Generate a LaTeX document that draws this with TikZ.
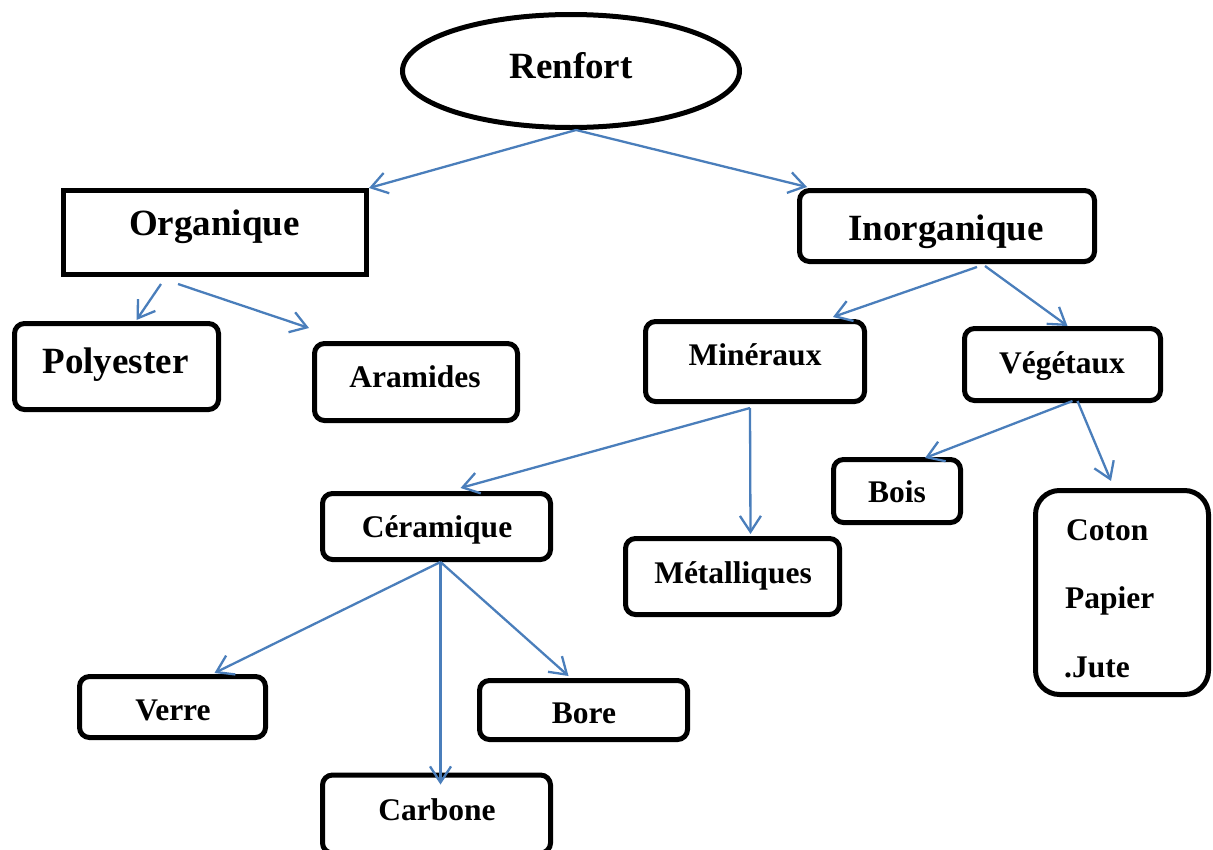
\documentclass[tikz,border=0pt]{standalone}
\usepackage{fontspec}
\setmainfont{Liberation Serif}
\usetikzlibrary{shapes.geometric,arrows.meta,calc}
\definecolor{linkblue}{RGB}{74,126,187}
\begin{document}
\begin{tikzpicture}[x=1pt,y=-1pt,
  frame/.style={draw=black,line width=5pt,inner sep=0pt,fill=white},
  rbox/.style={frame,rectangle,rounded corners=10pt},
  bigtxt/.style={anchor=base,inner sep=0pt,font=\fontsize{37}{44}\selectfont\bfseries},
  smalltxt/.style={anchor=base,inner sep=0pt,font=\fontsize{31.5}{38}\selectfont\bfseries},
  link/.style={draw=linkblue,line width=2.3pt,-{Straight Barb[length=16pt,width=21pt,line width=2.3pt]}}]
\useasboundingbox (0,0) rectangle (1213,849);
\clip (0,0) rectangle (1213,849);

% boxes
\node[frame,ellipse,minimum width=337pt,minimum height=113pt] (ren) at (571,71) {};
\node[frame,rectangle,minimum width=303pt,minimum height=84pt] (org) at (215,232.5) {};
\node[rbox,minimum width=295pt,minimum height=71pt] (inorg) at (947,226) {};
\node[rbox,minimum width=204pt,minimum height=86pt] (poly) at (116.5,366.5) {};
\node[rbox,minimum width=203pt,minimum height=77pt] (ara) at (416,382) {};
\node[rbox,minimum width=219pt,minimum height=80pt] (mine) at (755,361.5) {};
\node[rbox,minimum width=196pt,minimum height=72pt] (veg) at (1062.5,364.5) {};
\node[rbox,minimum width=228pt,minimum height=66pt] (cer) at (436.5,526.5) {};
\node[rbox,minimum width=214pt,minimum height=76pt] (met) at (732.5,576.5) {};
\node[rbox,minimum width=127pt,minimum height=63pt] (bois) at (897,491) {};
\node[frame,rectangle,rounded corners=24pt,minimum width=173pt,minimum height=204pt] (coton) at (1122,592.5) {};
\node[rbox,minimum width=186pt,minimum height=61pt] (verre) at (172.5,707) {};
\node[rbox,minimum width=208pt,minimum height=59pt] (bore) at (583.5,710) {};
\node[rbox,minimum width=228pt,minimum height=78pt] (carb) at (436.5,814) {};

% labels
\node[bigtxt] (t-ren) at (571,78) {Renfort};
\node[bigtxt] (t-org) at (214.5,235) {Organique};
\node[bigtxt] (t-inorg) at (946,240) {Inorganique};
\node[bigtxt] (t-poly) at (115.5,373) {Polyester};
\node[smalltxt] (t-ara) at (415,387) {Aramides};
\node[smalltxt] (t-mine) at (755,365) {Minéraux};
\node[smalltxt] (t-veg) at (1062,373) {Végétaux};
\node[smalltxt] (t-cer) at (437,537) {Céramique};
\node[smalltxt] (t-met) at (733,583) {Métalliques};
\node[smalltxt] (t-bois) at (897,502) {Bois};
\node[smalltxt,anchor=base west] (t-coton) at (1066,540) {Coton};
\node[smalltxt,anchor=base west] (t-papier) at (1065,608) {Papier};
\node[smalltxt,anchor=base west] (t-jute) at (1064,677) {.Jute};
\node[smalltxt] (t-verre) at (173,720) {Verre};
\node[smalltxt] (t-bore) at (584,723) {Bore};
\node[smalltxt] (t-carb) at (437,820) {Carbone};

% connectors
\draw[link] ($(ren.south)+(5,0)$) -- (org.north east);
\draw[link] ($(ren.south)+(5,0)$) -- ($(inorg.north west)+(10,-1)$);
\draw[link] ($(org.south west)+(100,7)$) -- ($(poly.north)+(20,-1)$);
\draw[link] ($(org.south west)+(117,7)$) -- ($(ara.north west)+(-3,-13)$);
\draw[link] ($(inorg.south)+(30,3)$) -- ($(mine.north east)+(-34,-2)$);
\draw[link] ($(inorg.south)+(38,2)$) -- ($(veg.north)+(5,0)$);
\draw[link] ($(mine.south)+(-5,4)$) -- ($(cer.north)+(24,-3)$);
\draw[link] ($(mine.south)+(-5,4)$) -- ($(met.north)+(18,-2)$);
\draw[link] ($(veg.south)+(10,-2)$) -- ($(bois.north)+(28,1)$);
\draw[link] ($(veg.south)+(15,-2)$) -- ($(coton.north)+(-11,-7)$);
\draw[link] ($(cer.south)+(4,0)$) -- ($(verre.north)+(42,-1)$);
\draw[link] ($(cer.south)+(4,0)$) -- ($(carb.north)+(4,12)$);
\draw[link] ($(cer.south)+(4,0)$) -- ($(bore.north)+(-15,-2)$);
\end{tikzpicture}
\end{document}
